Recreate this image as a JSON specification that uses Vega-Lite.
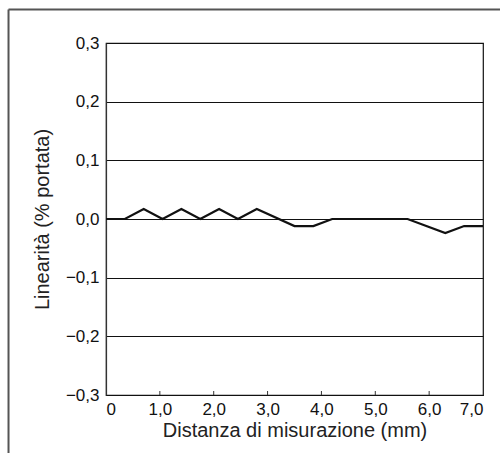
{
  "$schema": "https://vega.github.io/schema/vega-lite/v6.json",
  "width": 377,
  "height": 352,
  "autosize": "none",
  "padding": {"left": 106, "top": 43, "right": 17, "bottom": 58},
  "background": "white",
  "config": {
    "font": "Liberation Sans",
    "view": {"stroke": "#111", "strokeWidth": 1.2},
    "locale": {"number": {"decimal": ",", "thousands": ".", "grouping": [3], "currency": ["", "€"], "minus": "−"}}
  },
  "datasets": {
    "curve": [
      {"dist": 0, "lin": 0},
      {"dist": 0.35, "lin": 0},
      {"dist": 0.7, "lin": 0.017},
      {"dist": 1.05, "lin": 0},
      {"dist": 1.4, "lin": 0.017},
      {"dist": 1.75, "lin": 0},
      {"dist": 2.1, "lin": 0.017},
      {"dist": 2.45, "lin": 0},
      {"dist": 2.8, "lin": 0.017},
      {"dist": 3.5, "lin": -0.012},
      {"dist": 3.85, "lin": -0.012},
      {"dist": 4.2, "lin": 0},
      {"dist": 4.55, "lin": 0},
      {"dist": 4.9, "lin": 0},
      {"dist": 5.25, "lin": 0},
      {"dist": 5.6, "lin": 0},
      {"dist": 6.3, "lin": -0.024},
      {"dist": 6.65, "lin": -0.012},
      {"dist": 7.0, "lin": -0.012}
    ],
    "ticks": [
      {"dist": 1}, {"dist": 2}, {"dist": 3}, {"dist": 4}, {"dist": 5}, {"dist": 6}
    ],
    "frame": [{"name": "frame"}]
  },
  "layer": [
    {
      "data": {"name": "curve"},
      "mark": {"type": "line", "color": "#111", "strokeWidth": 2.2},
      "encoding": {
        "x": {
          "field": "dist", "type": "quantitative",
          "scale": {"domain": [0, 7], "nice": false, "zero": false},
          "axis": {
            "values": [0, 1, 2, 3, 4, 5, 6, 7],
            "labelExpr": "datum.value == 0 ? '0' : format(datum.value, '.1f')",
            "grid": false,
            "ticks": false, "tickSize": 0,
            "domainColor": "#111", "domainWidth": 1.2,
            "labelFontSize": 17, "labelColor": "#111", "labelPadding": 6,
            "title": "Distanza di misurazione (mm)",
            "titleFontSize": 20, "titleFontWeight": "normal", "titleColor": "#222",
            "titlePadding": 3
          }
        },
        "y": {
          "field": "lin", "type": "quantitative",
          "scale": {"domain": [-0.3, 0.3], "nice": false, "zero": false},
          "axis": {
            "values": [-0.3, -0.2, -0.1, 0, 0.1, 0.2, 0.3],
            "format": ".1f",
            "grid": true, "gridColor": "#111", "gridWidth": 1, "gridOpacity": 1,
            "ticks": false, "tickSize": 0,
            "domainColor": "#333", "domainWidth": 1.2,
            "labelFontSize": 17, "labelColor": "#111", "labelPadding": 7,
            "title": "Linearità (% portata)",
            "titleFontSize": 20, "titleFontWeight": "normal", "titleColor": "#222",
            "titlePadding": 13
          }
        }
      }
    },
    {
      "data": {"name": "ticks"},
      "mark": {"type": "rule", "color": "#333", "strokeWidth": 1},
      "encoding": {
        "x": {"field": "dist", "type": "quantitative"},
        "y": {"datum": -0.3, "type": "quantitative"},
        "y2": {"datum": -0.2932}
      }
    },
    {
      "data": {"name": "frame"},
      "mark": {"type": "rule", "color": "#555", "strokeWidth": 2, "clip": false},
      "encoding": {
        "x": {"datum": -1.81, "type": "quantitative"},
        "y": {"datum": 0.357, "type": "quantitative"},
        "y2": {"datum": -0.7}
      }
    },
    {
      "data": {"name": "frame"},
      "mark": {"type": "rule", "color": "#555", "strokeWidth": 2, "clip": false},
      "encoding": {
        "y": {"datum": 0.357, "type": "quantitative"},
        "x": {"datum": -1.81, "type": "quantitative"},
        "x2": {"datum": 9}
      }
    }
  ]
}
